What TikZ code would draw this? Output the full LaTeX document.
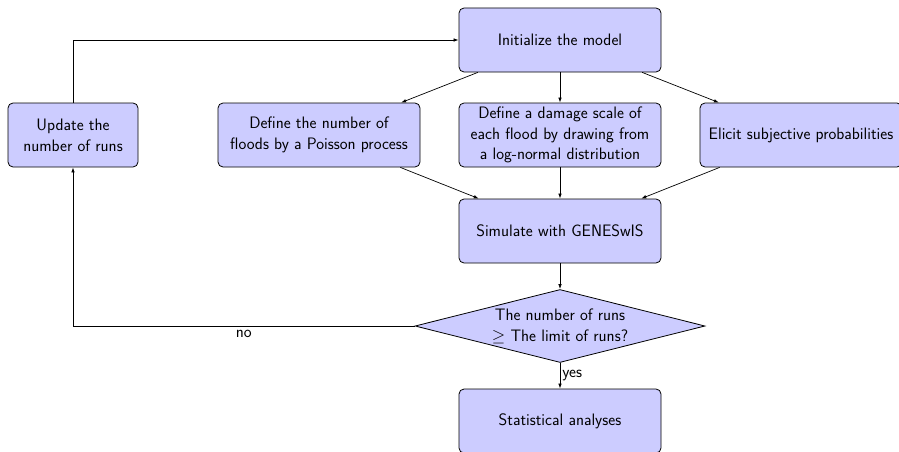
\documentclass[tikz,border=0pt]{standalone}
\usetikzlibrary{shapes.geometric,arrows.meta}
\begin{document}
\begin{tikzpicture}[x=1pt,y=-1pt,
  txt/.style={font=\sffamily\fontsize{16.6}{20.7}\selectfont},
  box/.style={txt, draw, line width=0.8pt, rounded corners=5pt, fill=blue!20,
    minimum width=202pt, minimum height=64pt, align=center, inner sep=2pt},
  dec/.style={txt, draw, line width=0.8pt, diamond, fill=blue!20, aspect=3.97,
    minimum width=290pt, minimum height=73pt, align=center, inner sep=0pt},
  conn/.style={draw, line width=0.7pt, -{Latex[length=5pt,width=3.5pt]}},
  lbl/.style={txt}
]
\useasboundingbox (0,0) rectangle (899,452);
\node[box] (init) at (560,40) {Initialize the model};
\node[box, minimum width=130pt] (upd) at (73,135) {Update the\\number of runs};
\node[box] (flood) at (319,135) {Define the number of\\floods by a Poisson process};
\node[box] (dmg) at (560,135) {Define a damage scale of\\each flood by drawing from\\a log-normal distribution};
\node[box] (eli) at (801,135) {Elicit subjective probabilities};
\node[box] (sim) at (560,231) {Simulate with GENESwIS};
\node[dec] (lim) at (560,326) {The number of runs\\$\geq$ The limit of runs?};
\node[box] (stat) at (560,421) {Statistical analyses};

\draw[conn] (init) -- (flood);
\draw[conn] (init) -- (dmg);
\draw[conn] (init) -- (eli);
\draw[conn] (flood) -- (sim);
\draw[conn] (dmg) -- (sim);
\draw[conn] (eli) -- (sim);
\draw[conn] (sim) -- (lim);
\draw[conn] (lim) -- node[lbl, right, inner sep=2pt] {yes} (stat);
\draw[conn] (lim.west) -- node[lbl, below, pos=0.5] {no} (lim.west -| upd.south) -- (upd.south);
\draw[conn] (upd.north) |- (init.west);
\end{tikzpicture}
\end{document}
